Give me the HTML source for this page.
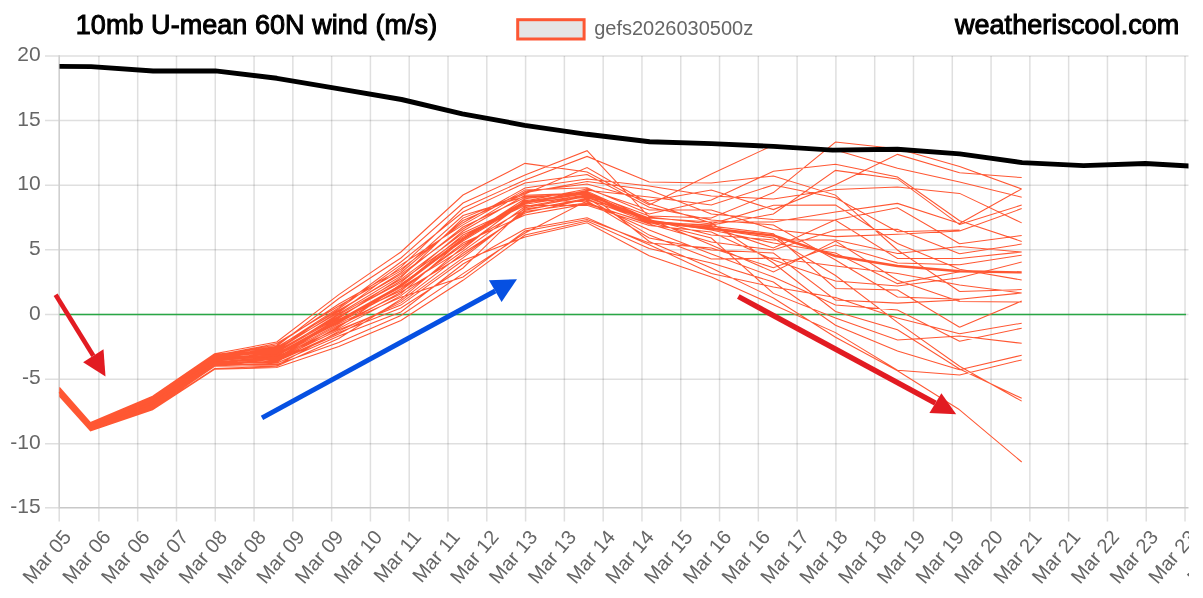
<!DOCTYPE html>
<html><head><meta charset="utf-8"><style>
html,body{margin:0;padding:0;background:#fff;}
svg{display:block;will-change:transform;}
text{font-family:"Liberation Sans",sans-serif;}
.yl{font-size:21px;fill:#666;text-anchor:end;}
.xl{font-size:20px;fill:#666;text-anchor:end;}
.tt{font-size:27px;fill:#000;stroke:#000;stroke-width:1.0px;letter-spacing:0.05px;}
.lg{font-size:20px;fill:#666;}
</style></head><body>
<svg width="1203" height="598" viewBox="0 0 1203 598">
<defs><clipPath id="ca"><rect x="59.5" y="40" width="1129" height="480"/></clipPath>
<clipPath id="cx"><rect x="0" y="522" width="1189" height="76"/></clipPath></defs>
<path d="M98.90 55.9V521.5 M137.69 55.9V521.5 M176.48 55.9V521.5 M215.27 55.9V521.5 M254.06 55.9V521.5 M292.85 55.9V521.5 M331.64 55.9V521.5 M370.43 55.9V521.5 M409.22 55.9V521.5 M448.01 55.9V521.5 M486.80 55.9V521.5 M525.59 55.9V521.5 M564.38 55.9V521.5 M603.17 55.9V521.5 M641.96 55.9V521.5 M680.75 55.9V521.5 M719.54 55.9V521.5 M758.33 55.9V521.5 M797.12 55.9V521.5 M835.91 55.9V521.5 M874.70 55.9V521.5 M913.49 55.9V521.5 M952.28 55.9V521.5 M991.07 55.9V521.5 M1029.86 55.9V521.5 M1068.65 55.9V521.5 M1107.44 55.9V521.5 M1146.23 55.9V521.5 M1185.02 55.9V521.5" stroke="#000" stroke-opacity="0.125" stroke-width="1.5" fill="none"/>
<path d="M45 55.90H1188.5 M45 120.55H1188.5 M45 185.20H1188.5 M45 249.85H1188.5 M45 314.50H1188.5 M45 379.15H1188.5 M45 443.80H1188.5" stroke="#000" stroke-opacity="0.125" stroke-width="1.5" fill="none"/>
<path d="M45 507.8H59" stroke="#dedede" stroke-width="1.5"/>
<path d="M59.2 507.8V521.5" stroke="#dedede" stroke-width="1.5"/>
<path d="M59.2 507.8H1188.5" stroke="#c8c8c8" stroke-width="1.6" fill="none"/>
<path d="M59.2 55.2V508.5" stroke="#cfcfcf" stroke-width="1.6" fill="none"/>
<text x="40.6" y="61.1" class="yl">20</text>
<text x="40.6" y="125.8" class="yl">15</text>
<text x="40.6" y="190.4" class="yl">10</text>
<text x="40.6" y="255.0" class="yl">5</text>
<text x="40.6" y="319.7" class="yl">0</text>
<text x="40.6" y="384.3" class="yl">-5</text>
<text x="40.6" y="449.0" class="yl">-10</text>
<text x="40.6" y="513.0" class="yl">-15</text>
<g clip-path="url(#cx)"><text class="xl" transform="translate(66.8,533.1) rotate(-49.5)" dominant-baseline="central">Mar 05</text><text class="xl" transform="translate(106.5,533.1) rotate(-49.5)" dominant-baseline="central">Mar 06</text><text class="xl" transform="translate(145.3,533.1) rotate(-49.5)" dominant-baseline="central">Mar 06</text><text class="xl" transform="translate(184.1,533.1) rotate(-49.5)" dominant-baseline="central">Mar 07</text><text class="xl" transform="translate(222.9,533.1) rotate(-49.5)" dominant-baseline="central">Mar 08</text><text class="xl" transform="translate(261.7,533.1) rotate(-49.5)" dominant-baseline="central">Mar 08</text><text class="xl" transform="translate(300.5,533.1) rotate(-49.5)" dominant-baseline="central">Mar 09</text><text class="xl" transform="translate(339.2,533.1) rotate(-49.5)" dominant-baseline="central">Mar 09</text><text class="xl" transform="translate(378.0,533.1) rotate(-49.5)" dominant-baseline="central">Mar 10</text><text class="xl" transform="translate(416.8,533.1) rotate(-49.5)" dominant-baseline="central">Mar 11</text><text class="xl" transform="translate(455.6,533.1) rotate(-49.5)" dominant-baseline="central">Mar 11</text><text class="xl" transform="translate(494.4,533.1) rotate(-49.5)" dominant-baseline="central">Mar 12</text><text class="xl" transform="translate(533.2,533.1) rotate(-49.5)" dominant-baseline="central">Mar 13</text><text class="xl" transform="translate(572.0,533.1) rotate(-49.5)" dominant-baseline="central">Mar 13</text><text class="xl" transform="translate(610.8,533.1) rotate(-49.5)" dominant-baseline="central">Mar 14</text><text class="xl" transform="translate(649.6,533.1) rotate(-49.5)" dominant-baseline="central">Mar 14</text><text class="xl" transform="translate(688.4,533.1) rotate(-49.5)" dominant-baseline="central">Mar 15</text><text class="xl" transform="translate(727.1,533.1) rotate(-49.5)" dominant-baseline="central">Mar 16</text><text class="xl" transform="translate(765.9,533.1) rotate(-49.5)" dominant-baseline="central">Mar 16</text><text class="xl" transform="translate(804.7,533.1) rotate(-49.5)" dominant-baseline="central">Mar 17</text><text class="xl" transform="translate(843.5,533.1) rotate(-49.5)" dominant-baseline="central">Mar 18</text><text class="xl" transform="translate(882.3,533.1) rotate(-49.5)" dominant-baseline="central">Mar 18</text><text class="xl" transform="translate(921.1,533.1) rotate(-49.5)" dominant-baseline="central">Mar 19</text><text class="xl" transform="translate(959.9,533.1) rotate(-49.5)" dominant-baseline="central">Mar 19</text><text class="xl" transform="translate(998.7,533.1) rotate(-49.5)" dominant-baseline="central">Mar 20</text><text class="xl" transform="translate(1037.5,533.1) rotate(-49.5)" dominant-baseline="central">Mar 21</text><text class="xl" transform="translate(1076.2,533.1) rotate(-49.5)" dominant-baseline="central">Mar 21</text><text class="xl" transform="translate(1115.0,533.1) rotate(-49.5)" dominant-baseline="central">Mar 22</text><text class="xl" transform="translate(1153.8,533.1) rotate(-49.5)" dominant-baseline="central">Mar 23</text><text class="xl" transform="translate(1192.6,533.1) rotate(-49.5)" dominant-baseline="central">Mar 23</text><text class="xl" transform="translate(1231.4,533.1) rotate(-49.5)" dominant-baseline="central">Mar 24</text></g>
<path d="M59.5 314.5H1186" stroke="#28a745" stroke-width="1.3"/>
<path d="M59.5 388.6 L90.5 424.2 L152.6 398.1 L214.6 355.6 L276.7 343.5 L338.8 306.0 L400.9 270.9 L463.0 215.5 L525.0 196.4 L587.1 193.9 L649.2 222.0 L711.3 225.0 L773.4 214.0 L835.5 170.4 L897.5 178.9 L959.6 224.6 M59.5 393.1 L90.5 427.0 L152.6 403.9 L214.6 363.2 L276.7 358.5 L338.8 325.1 L400.9 297.3 L463.0 277.0 L525.0 231.0 L587.1 219.5 L649.2 243.0 L711.3 248.0 L773.4 267.8 L835.5 245.0 L897.5 263.0 L959.6 264.8 M59.5 395.2 L90.5 429.7 L152.6 407.9 L214.6 364.5 L276.7 359.3 L338.8 327.4 L400.9 284.2 L463.0 241.0 L525.0 203.2 L587.1 190.2 L649.2 197.0 L711.3 205.0 L773.4 185.0 L835.5 197.8 L897.5 231.8 L959.6 230.0 M59.5 389.8 L90.5 424.8 L152.6 400.3 L214.6 358.1 L276.7 351.7 L338.8 314.9 L400.9 279.3 L463.0 233.0 L525.0 204.3 L587.1 194.8 L649.2 219.5 L711.3 235.0 L773.4 240.0 L835.5 240.0 L897.5 253.5 L959.6 246.6 M59.5 388.0 L90.5 423.7 L152.6 397.2 L214.6 356.0 L276.7 346.2 L338.8 298.5 L400.9 258.0 L463.0 203.0 L525.0 175.0 L587.1 150.7 L649.2 217.0 L711.3 224.0 L773.4 205.3 L835.5 205.0 L897.5 243.5 L959.6 269.2 M59.5 391.3 L90.5 425.9 L152.6 401.2 L214.6 360.1 L276.7 353.0 L338.8 313.8 L400.9 276.1 L463.0 227.0 L525.0 197.5 L587.1 192.1 L649.2 241.5 L711.3 268.0 L773.4 298.0 L835.5 337.2 L897.5 370.8 L959.6 409.8 M59.5 393.7 L90.5 428.1 L152.6 405.7 L214.6 363.6 L276.7 362.3 L338.8 326.2 L400.9 292.3 L463.0 255.5 L525.0 211.6 L587.1 202.8 L649.2 224.0 L711.3 242.0 L773.4 250.0 L835.5 229.9 L897.5 229.3 L959.6 253.8 M59.5 395.8 L90.5 429.4 L152.6 407.5 L214.6 365.0 L276.7 360.7 L338.8 332.4 L400.9 308.0 L463.0 268.0 L525.0 207.8 L587.1 196.5 L649.2 220.5 L711.3 230.0 L773.4 243.0 L835.5 253.0 L897.5 283.6 L959.6 271.7 M59.5 388.9 L90.5 423.4 L152.6 396.7 L214.6 354.5 L276.7 347.2 L338.8 310.2 L400.9 274.4 L463.0 229.0 L525.0 191.4 L587.1 184.0 L649.2 201.0 L711.3 190.0 L773.4 209.6 L835.5 184.7 L897.5 154.4 L959.6 172.8 M59.5 388.3 L90.5 423.1 L152.6 399.0 L214.6 355.1 L276.7 345.0 L338.8 304.0 L400.9 269.1 L463.0 222.7 L525.0 188.0 L587.1 179.0 L649.2 186.0 L711.3 196.0 L773.4 199.0 L835.5 189.5 L897.5 187.0 L959.6 193.4 M59.5 394.6 L90.5 428.9 L152.6 406.1 L214.6 362.8 L276.7 361.5 L338.8 334.0 L400.9 300.9 L463.0 253.3 L525.0 213.1 L587.1 199.1 L649.2 222.5 L711.3 238.0 L773.4 293.4 L835.5 318.0 L897.5 339.9 L959.6 336.0 M59.5 393.4 L90.5 428.6 L152.6 404.3 L214.6 360.4 L276.7 355.8 L338.8 321.7 L400.9 285.8 L463.0 235.0 L525.0 205.5 L587.1 205.3 L649.2 225.6 L711.3 232.0 L773.4 260.0 L835.5 281.0 L897.5 286.0 L959.6 277.7 M59.5 396.1 L90.5 430.5 L152.6 409.3 L214.6 368.6 L276.7 366.3 L338.8 338.5 L400.9 299.1 L463.0 247.0 L525.0 202.1 L587.1 197.4 L649.2 221.0 L711.3 226.0 L773.4 233.8 L835.5 288.4 L897.5 290.0 L959.6 327.3 M59.5 394.9 L90.5 430.0 L152.6 408.4 L214.6 365.6 L276.7 363.3 L338.8 336.0 L400.9 312.0 L463.0 264.0 L525.0 229.0 L587.1 217.8 L649.2 244.7 L711.3 273.4 L773.4 287.0 L835.5 297.6 L897.5 318.0 L959.6 333.7 M59.5 391.0 L90.5 426.2 L152.6 402.6 L214.6 359.7 L276.7 352.4 L338.8 317.2 L400.9 281.0 L463.0 237.0 L525.0 200.9 L587.1 189.1 L649.2 210.0 L711.3 210.0 L773.4 229.5 L835.5 236.6 L897.5 234.3 L959.6 231.0 M59.5 390.7 L90.5 425.6 L152.6 402.1 L214.6 359.3 L276.7 355.1 L338.8 318.3 L400.9 277.7 L463.0 218.1 L525.0 192.7 L587.1 181.5 L649.2 190.0 L711.3 214.0 L773.4 219.5 L835.5 220.3 L897.5 258.5 L959.6 258.4 M59.5 396.4 L90.5 430.8 L152.6 409.7 L214.6 369.3 L276.7 367.6 L338.8 346.5 L400.9 320.5 L463.0 280.3 L525.0 235.0 L587.1 221.0 L649.2 248.6 L711.3 263.0 L773.4 282.0 L835.5 325.2 L897.5 351.0 L959.6 369.7 M59.5 390.4 L90.5 425.3 L152.6 400.8 L214.6 358.9 L276.7 350.2 L338.8 311.4 L400.9 272.7 L463.0 220.5 L525.0 194.0 L587.1 167.6 L649.2 203.4 L711.3 223.0 L773.4 263.0 L835.5 311.4 L897.5 329.8 L959.6 369.0 M59.5 389.5 L90.5 424.5 L152.6 399.4 L214.6 357.3 L276.7 351.0 L338.8 316.1 L400.9 282.6 L463.0 231.0 L525.0 195.2 L587.1 193.0 L649.2 216.0 L711.3 218.0 L773.4 192.6 L835.5 142.1 L897.5 148.8 L959.6 166.6 M59.5 389.2 L90.5 424.0 L152.6 397.6 L214.6 356.5 L276.7 348.0 L338.8 307.6 L400.9 262.0 L463.0 212.0 L525.0 183.0 L587.1 174.5 L649.2 207.3 L711.3 220.0 L773.4 225.0 L835.5 260.0 L897.5 297.0 L959.6 299.3 M59.5 391.9 L90.5 426.4 L152.6 399.9 L214.6 357.7 L276.7 349.5 L338.8 308.9 L400.9 264.9 L463.0 224.9 L525.0 189.9 L587.1 187.7 L649.2 214.0 L711.3 200.0 L773.4 171.3 L835.5 164.2 L897.5 177.0 L959.6 220.7 M59.5 392.2 L90.5 427.2 L152.6 404.8 L214.6 360.8 L276.7 354.4 L338.8 322.8 L400.9 289.0 L463.0 245.0 L525.0 209.0 L587.1 200.0 L649.2 220.0 L711.3 229.0 L773.4 238.0 L835.5 275.5 L897.5 322.4 L959.6 366.3 M59.5 390.1 L90.5 425.1 L152.6 401.7 L214.6 358.5 L276.7 353.7 L338.8 319.4 L400.9 290.7 L463.0 243.0 L525.0 215.0 L587.1 203.9 L649.2 223.0 L711.3 227.0 L773.4 248.0 L835.5 219.7 L897.5 207.8 L959.6 243.7 M59.5 391.6 L90.5 426.7 L152.6 403.0 L214.6 361.2 L276.7 360.0 L338.8 329.8 L400.9 305.1 L463.0 260.5 L525.0 237.0 L587.1 222.8 L649.2 255.8 L711.3 277.0 L773.4 304.8 L835.5 332.6 L897.5 370.3 L959.6 375.1 M59.5 392.8 L90.5 427.5 L152.6 403.4 L214.6 362.0 L276.7 356.5 L338.8 328.6 L400.9 295.6 L463.0 251.1 L525.0 206.6 L587.1 195.6 L649.2 218.0 L711.3 222.0 L773.4 222.0 L835.5 212.0 L897.5 203.4 L959.6 223.5 M59.5 394.0 L90.5 428.3 L152.6 405.2 L214.6 361.6 L276.7 357.8 L338.8 320.6 L400.9 287.4 L463.0 249.0 L525.0 199.8 L587.1 201.8 L649.2 230.0 L711.3 254.0 L773.4 277.0 L835.5 305.0 L897.5 310.0 L959.6 341.2 M59.5 395.5 L90.5 430.3 L152.6 408.8 L214.6 366.3 L276.7 365.5 L338.8 331.1 L400.9 302.9 L463.0 257.9 L525.0 210.3 L587.1 198.2 L649.2 235.1 L711.3 259.0 L773.4 258.0 L835.5 266.0 L897.5 273.6 L959.6 285.1 M59.5 392.5 L90.5 427.8 L152.6 406.6 L214.6 362.4 L276.7 357.1 L338.8 323.9 L400.9 293.9 L463.0 239.0 L525.0 198.7 L587.1 191.2 L649.2 219.0 L711.3 245.0 L773.4 272.0 L835.5 241.1 L897.5 280.3 L959.6 301.4 M59.5 387.4 L90.5 422.6 L152.6 396.3 L214.6 353.8 L276.7 342.0 L338.8 294.6 L400.9 252.0 L463.0 195.0 L525.0 163.4 L587.1 172.0 L649.2 205.0 L711.3 174.0 L773.4 145.1 L835.5 150.0 L897.5 168.2 L959.6 182.1 M59.5 394.3 L90.5 429.2 L152.6 407.0 L214.6 364.1 L276.7 364.5 L338.8 342.5 L400.9 315.5 L463.0 273.6 L525.0 233.0 L587.1 200.9 L649.2 238.0 L711.3 250.0 L773.4 253.0 L835.5 300.0 L897.5 303.1 L959.6 300.0 M59.5 387.7 L90.5 422.9 L152.6 398.5 L214.6 356.9 L276.7 348.8 L338.8 312.6 L400.9 267.1 L463.0 208.0 L525.0 180.0 L587.1 156.4 L649.2 181.9 L711.3 183.0 L773.4 176.0 L835.5 195.1 L897.5 250.0 L959.6 291.5 M959.6 166.6L1021.7 188.9 M959.6 172.8L1021.7 177.6 M959.6 182.1L1021.7 197.2 M959.6 193.4L1021.7 222.9 M959.6 223.5L1021.7 188.9 M959.6 220.7L1021.7 241.4 M959.6 224.6L1021.7 205.1 M959.6 231.0L1021.7 208.6 M959.6 243.7L1021.7 235.5 M959.6 253.8L1021.7 244.1 M959.6 246.6L1021.7 252.0 M959.6 258.4L1021.7 252.0 M959.6 264.8L1021.7 255.2 M959.6 277.7L1021.7 262.1 M959.6 269.2L1021.7 280.0 M959.6 285.1L1021.7 292.9 M959.6 291.5L1021.7 289.6 M959.6 299.3L1021.7 293.0 M959.6 301.4L1021.7 302.0 M959.6 327.3L1021.7 301.1 M959.6 333.7L1021.7 323.2 M959.6 341.2L1021.7 328.2 M959.6 336.0L1021.7 343.3 M959.6 369.7L1021.7 355.3 M959.6 375.1L1021.7 359.9 M959.6 366.3L1021.7 401.1 M959.6 369.0L1021.7 398.3 M959.6 409.8L1021.7 462.0" stroke="#ff5733" stroke-width="1.05" fill="none" stroke-linejoin="miter"/><polyline points="59.5,391.9 90.5,426.7 152.6,403.0 214.6,360.4 276.7,355.1 338.8,320.6 400.9,285.8 463.0,239.0 525.0,202.1 587.1,193.0 649.2,221.5 711.3,228.5 773.4,235.5 835.5,256.0 897.5,266.0 959.6,271.3 1021.7,272.4" stroke="#ff5733" stroke-width="2.4" fill="none" stroke-linejoin="round"/>
<g clip-path="url(#ca)"><polyline points="59.0,66.4 91.1,66.6 153.1,71.0 215.4,70.9 276.9,78.3 339.4,88.9 401.6,99.5 462.3,113.9 524.7,125.3 587.0,134.3 649.7,141.8 711.5,143.6 773.4,146.4 832.6,150.1 897.4,149.3 959.7,153.9 1022.1,162.6 1083.5,165.6 1145.4,163.5 1207.4,167.0" stroke="#000" stroke-width="4.9" fill="none" stroke-linejoin="round"/></g>
<line x1="55.6" y1="294.8" x2="93.3" y2="355.8" stroke="#e21b22" stroke-width="4.6"/><polygon points="105.5,376.5 83.1,362.2 103.5,349.3" fill="#e21b22"/>
<line x1="738.3" y1="296.5" x2="935.4" y2="403.1" stroke="#e21b22" stroke-width="5.4"/><polygon points="956.2,414.2 929.4,412.9 941.4,393.3" fill="#e21b22"/>
<line x1="262.0" y1="417.9" x2="495.2" y2="291.0" stroke="#0650e2" stroke-width="4.9"/><polygon points="517.0,279.3 488.9,280.2 501.6,301.9" fill="#0650e2"/>
<text x="75.8" y="34.1" class="tt">10mb U-mean 60N wind (m/s)</text>
<text x="1179.4" y="34.2" class="tt" text-anchor="end">weatheriscool.com</text>
<rect x="517.7" y="19.7" width="66.4" height="19.3" fill="#e5e5e5" stroke="#fd5734" stroke-width="3"/>
<text x="594.2" y="35.0" class="lg">gefs2026030500z</text>
</svg>
</body></html>
